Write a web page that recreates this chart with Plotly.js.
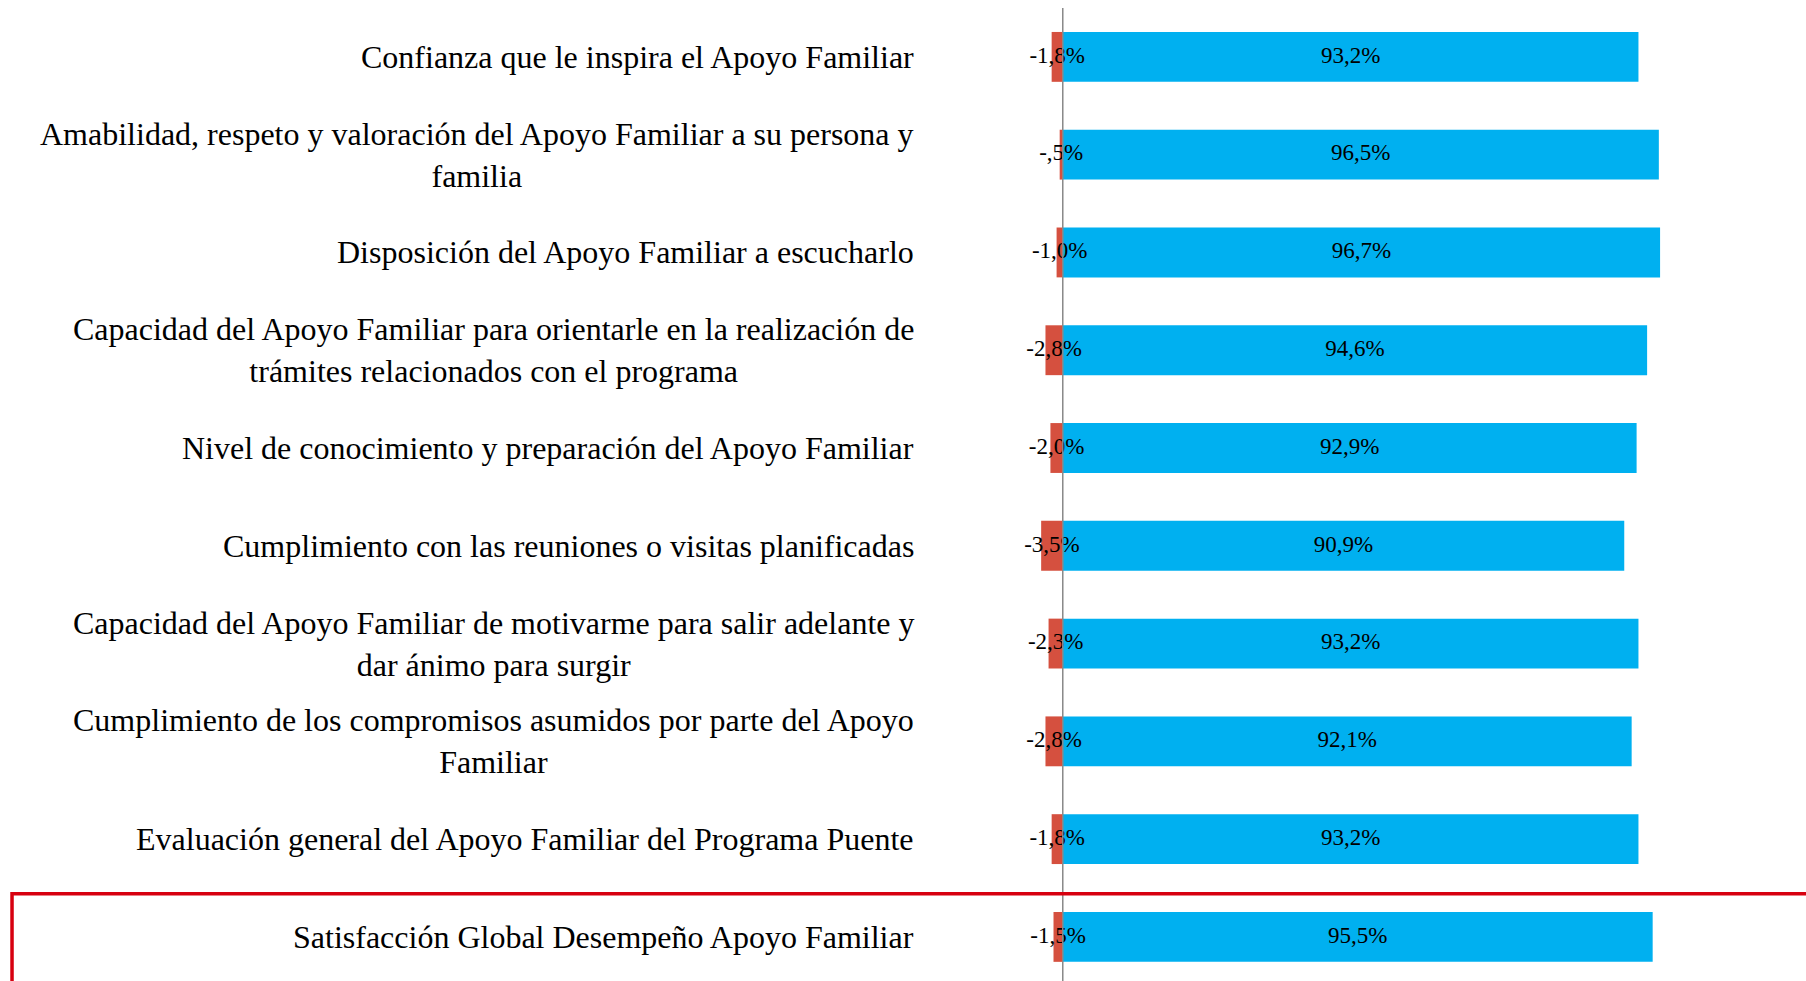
<!DOCTYPE html>
<html>
<head>
<meta charset="utf-8">
<script src="https://cdn.plot.ly/plotly-3.0.1.min.js"></script>
<style>html,body{margin:0;padding:0;background:#fff;}#chart{width:1806px;height:981px;}</style>
</head>
<body>
<div id="chart"></div>
<script>
var categories = [
  "Confianza que le inspira el Apoyo Familiar",
  "Amabilidad, respeto y valoración del Apoyo Familiar a su persona y<br>familia",
  "Disposición del Apoyo Familiar a escucharlo",
  "Capacidad del Apoyo Familiar para orientarle en la realización de<br>trámites relacionados con el programa",
  "Nivel de conocimiento y preparación del Apoyo Familiar",
  "Cumplimiento con las reuniones o visitas planificadas",
  "Capacidad del Apoyo Familiar de motivarme para salir adelante y<br>dar ánimo para surgir",
  "Cumplimiento de los compromisos asumidos por parte del Apoyo<br>Familiar",
  "Evaluación general del Apoyo Familiar del Programa Puente",
  "Satisfacción Global Desempeño Apoyo Familiar"
];
var satisfied = [93.2, 96.5, 96.7, 94.6, 92.9, 90.9, 93.2, 92.1, 93.2, 95.5];
var unsatisfied = [-1.8, -0.5, -1.0, -2.8, -2.0, -3.5, -2.3, -2.8, -1.8, -1.5];
var satisfiedLabels = ["93,2%", "96,5%", "96,7%", "94,6%", "92,9%", "90,9%", "93,2%", "92,1%", "93,2%", "95,5%"];
var unsatisfiedLabels = ["-1,8%", "-,5%", "-1,0%", "-2,8%", "-2,0%", "-3,5%", "-2,3%", "-2,8%", "-1,8%", "-1,5%"];

var FONT = "Liberation Serif, Times New Roman, serif";
var ids = categories.map(function (c, i) { return i; });

var traces = [
  {type: "bar", orientation: "h", y: ids, x: unsatisfied, marker: {color: "#d5503f"}, hoverinfo: "skip"},
  {type: "bar", orientation: "h", y: ids, x: satisfied, marker: {color: "#00b0f0"}, hoverinfo: "skip"},
  {type: "scatter", mode: "text", y: ids, x: satisfied.map(function (v) { return v / 2; }),
   text: satisfiedLabels, textposition: "middle center", cliponaxis: false,
   textfont: {family: FONT, size: 23, color: "#000"}, hoverinfo: "skip"},
  {type: "scatter", mode: "text", y: ids, x: unsatisfied.map(function (v) { return v / 2; }),
   text: unsatisfiedLabels, textposition: "middle center", cliponaxis: false,
   textfont: {family: FONT, size: 23, color: "#000"}, hoverinfo: "skip"}
];

var annotations = categories.map(function (c, i) {
  return {text: c, x: -0.106, xref: "paper", xanchor: "right", y: i, yref: "y", yanchor: "middle",
          align: "center", showarrow: false, font: {family: FONT, size: 32, color: "#000"}};
});

var layout = {
  width: 1806, height: 981,
  margin: {l: 1001, r: 2, t: 8, b: 0, pad: 0},
  paper_bgcolor: "#fff", plot_bgcolor: "#fff",
  barmode: "relative", bargap: 0.49,
  showlegend: false,
  xaxis: {range: [-10, 120], showgrid: false, zeroline: false, showticklabels: false, ticks: "", showline: false, fixedrange: true},
  yaxis: {type: "linear", range: [9.451, -0.5], showgrid: false, zeroline: false, showticklabels: false, ticks: "", showline: false, fixedrange: true},
  annotations: annotations,
  shapes: [
    {type: "line", xref: "x", yref: "paper", x0: 0, x1: 0, y0: 0, y1: 1, layer: "above",
     line: {color: "#888888", width: 1.5}},
    {type: "rect", xref: "paper", yref: "paper", x0: -1.2316, x1: 1.02, y0: -0.05, y1: 0.0897, layer: "above",
     line: {color: "#d7000f", width: 3.5}, fillcolor: "rgba(0,0,0,0)"}
  ]
};

Plotly.newPlot("chart", traces, layout, {displayModeBar: false, staticPlot: true});
</script>
</body>
</html>
